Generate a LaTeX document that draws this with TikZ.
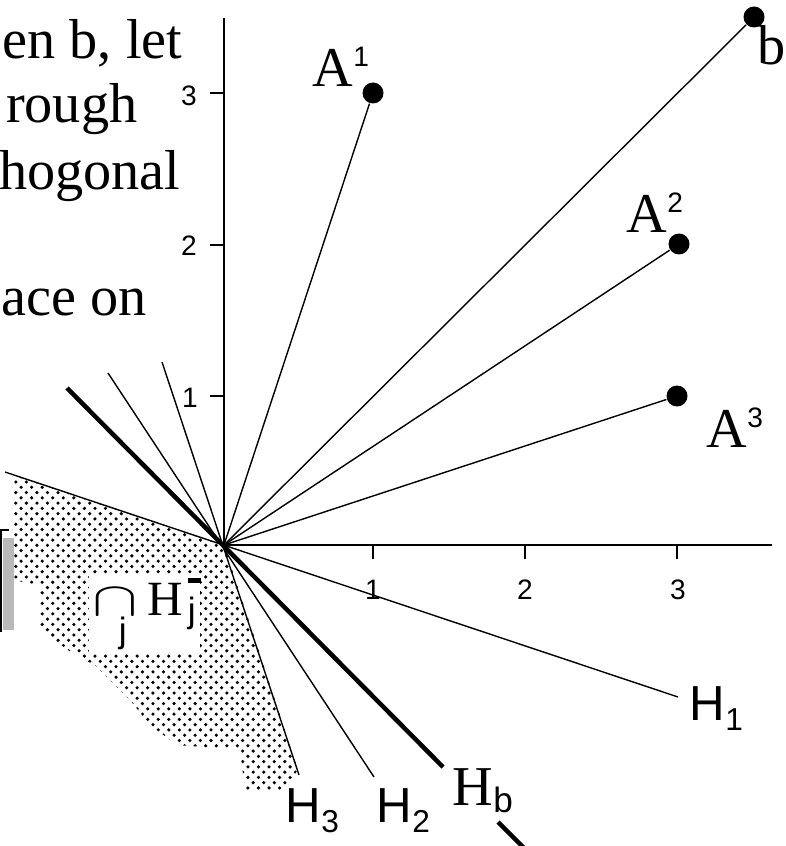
\documentclass[tikz,border=0pt]{standalone}
\usepackage{graphicx}
\usepackage{fontspec}
\setmainfont{Liberation Serif}
\setsansfont{Liberation Sans}
\usetikzlibrary{patterns}

\newlength{\du}
\setlength{\du}{0.01cm}
\newcommand{\supsf}[1]{\raisebox{20\du}{\sffamily\fontsize{8}{9}\selectfont #1}}
\newcommand{\subsf}[1]{\raisebox{-10\du}{\sffamily\fontsize{9}{10}\selectfont #1}}

\tikzset{
  thinline/.style={line width=1.4\du},
  axisline/.style={line width=2\du},
  boldline/.style={line width=4.5\du},
  ptdot/.style={circle,fill=black,inner sep=0pt,minimum size=21\du},
  ticklabel/.style={font=\sffamily\fontsize{8}{9}\selectfont,inner sep=0pt},
  serlabel/.style={font=\fontsize{16}{18}\selectfont,inner sep=0pt,anchor=base west},
  hlabel/.style={font=\sffamily\fontsize{14}{16}\selectfont,inner sep=0pt,anchor=base west},
  txtline/.style={font=\fontsize{16}{18}\selectfont,inner sep=0pt,anchor=base east}
}

\begin{document}
\begin{tikzpicture}
\pgftransformyscale{-1.000000}
\useasboundingbox (0\du,0\du) rectangle (785\du,846\du);
\definecolor{dialinecolor}{rgb}{0.000000, 0.000000, 0.000000}
\coordinate (O) at (224\du,545\du);
% shaded cone
\fill[pattern=crosshatch dots,pattern color=dialinecolor] (O)--(12\du,474\du)--(12\du,580\du)--(40\du,585\du)--(40\du,630\du)--(75\du,655\du)--(95\du,665\du)--(130\du,700\du)--(150\du,725\du)--(177\du,745\du)--(240\du,750\du)--(245\du,790\du)--(282\du,790\du)--(298\du,770\du)--cycle;
\fill[gray!55] (3\du,538\du) rectangle (14\du,630\du);
\draw[axisline] (1\du,632\du)--(1\du,530\du)--(9\du,530\du);
% half-planes
\coordinate (H1a) at (5\du,472\du);
\coordinate (H1b) at (678\du,697\du);
\coordinate (H2a) at (108\du,373\du);
\coordinate (H2b) at (374\du,777\du);
\coordinate (H3a) at (162\du,362\du);
\coordinate (H3b) at (299\du,775\du);
\coordinate (Hba) at (67\du,388\du);
\coordinate (Hbb) at (443\du,767\du);
\coordinate (Hbc) at (498\du,822\du);
\coordinate (Hbd) at (526\du,850\du);
\draw[thinline] (H1a)--(H1b);
\draw[thinline] (H2a)--(H2b);
\draw[thinline] (H3a)--(H3b);
\draw[boldline] (Hba)--(Hbb);
\draw[boldline] (Hbc)--(Hbd);
% axes
\coordinate (xend) at (772\du,545\du);
\coordinate (yend) at (224\du,18\du);
\draw[axisline] (O)--(xend);
\draw[axisline] (O)--(yend);
\draw[axisline] (373\du,545\du)--(373\du,559\du);
\draw[axisline] (525\du,545\du)--(525\du,559\du);
\draw[axisline] (677\du,545\du)--(677\du,559\du);
\draw[axisline] (210\du,93\du)--(224\du,93\du);
\draw[axisline] (210\du,245\du)--(224\du,245\du);
\draw[axisline] (210\du,396\du)--(224\du,396\du);
\node[ticklabel] (xt1) at (373\du,590\du){1};
\node[ticklabel] (xt2) at (525\du,590\du){2};
\node[ticklabel] (xt3) at (678\du,590\du){3};
\node[ticklabel] (yt3) at (189\du,96\du){3};
\node[ticklabel] (yt2) at (189\du,246\du){2};
\node[ticklabel] (yt1) at (190\du,398\du){1};
% rows and b
\node[ptdot] (A1) at (373\du,93\du){};
\node[ptdot] (A2) at (679\du,244\du){};
\node[ptdot] (A3) at (677\du,396\du){};
\node[ptdot] (b) at (754\du,17\du){};
\draw[thinline] (O)--(A1);
\draw[thinline] (O)--(A2);
\draw[thinline] (O)--(A3);
\draw[thinline] (O)--(b);
% labels
\node[serlabel] (lA1) at (312\du,87\du){A\supsf{1}};
\node[serlabel] (lA2) at (626\du,233\du){A\supsf{2}};
\node[serlabel] (lA3) at (706\du,447\du){A\supsf{3}};
\node[serlabel] (lb) at (757\du,65\du){b};
\node[hlabel] (lH1) at (689\du,720\du){H\subsf{1}};
\node[hlabel] (lH2) at (376\du,822\du){H\subsf{2}};
\node[hlabel] (lH3) at (285\du,822\du){H\subsf{3}};
\node[serlabel] (lHb) at (452\du,805\du){H\raisebox{-7\du}{\sffamily\fontsize{10}{11}\selectfont b}};
\node[anchor=base west,fill=white,inner xsep=4\du,inner ysep=4\du,font=\fontsize{14}{16}\selectfont] (lcap) at (88\du,615\du){\scalebox{1.35}[0.95]{$\cap$}\llap{\makebox[31\du]{\raisebox{-27\du}{\sffamily\fontsize{10}{11}\selectfont j}}}\hspace{9\du}H\hspace{5\du}\rlap{\raisebox{32\du}{\rule{13\du}{5\du}}}\raisebox{-7\du}{\sffamily\fontsize{10}{11}\selectfont j}};
% text
\node[txtline] (t1) at (183\du,59\du){en b, let};
\node[txtline] (t2) at (138\du,123\du){rough};
\node[txtline] (t3) at (181\du,190\du){hogonal};
\node[txtline] (t4) at (147\du,315\du){ace on};
\end{tikzpicture}
\end{document}
